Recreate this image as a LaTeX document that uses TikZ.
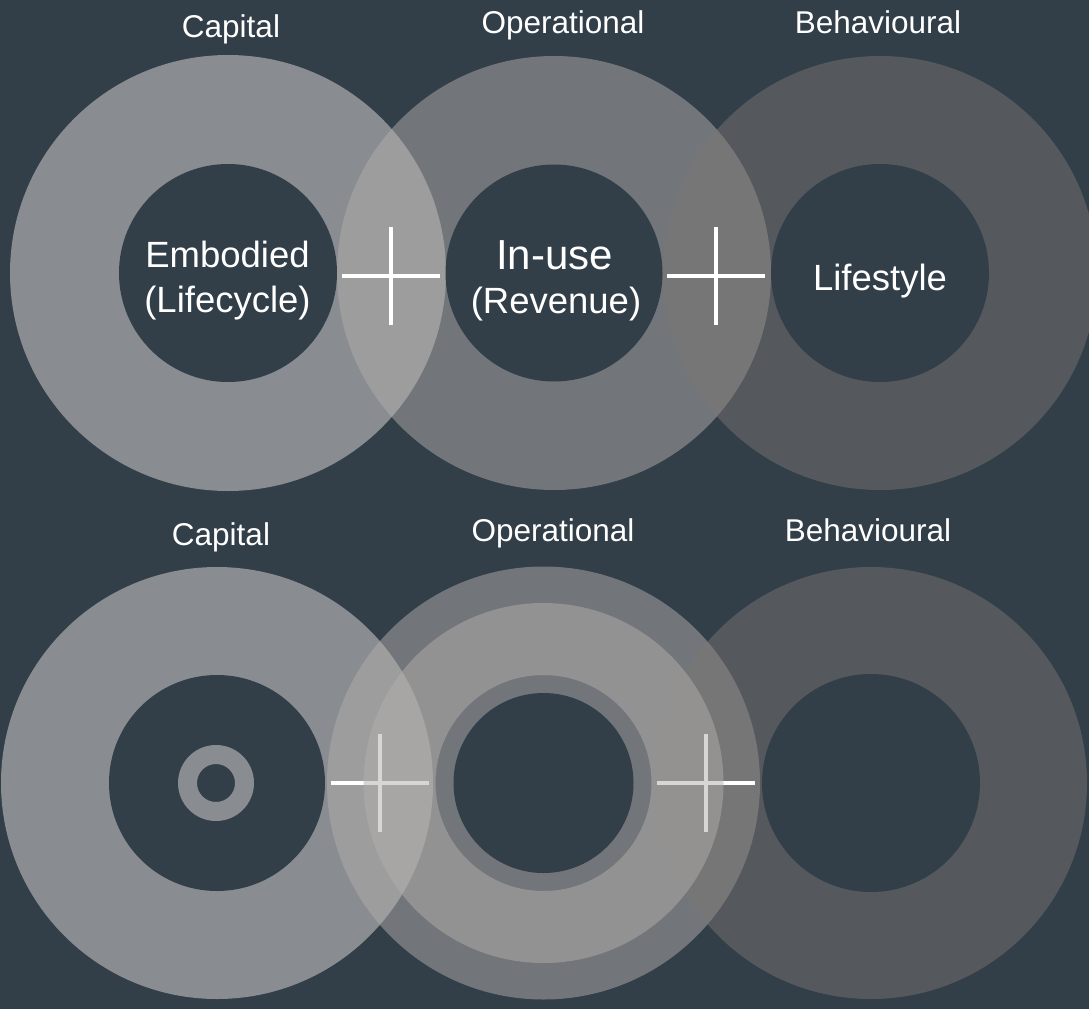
\documentclass[tikz,border=0pt]{standalone}
\usepackage{fontspec}
\setmainfont{Liberation Sans}
\definecolor{bg}{RGB}{50,62,72}
\definecolor{capc}{RGB}{137,140,145}
\definecolor{opc}{RGB}{178,175,172}
\definecolor{behc}{RGB}{124,120,117}
\begin{document}
\begin{tikzpicture}[x=1pt,y=-1pt,
  capital/.style={fill=capc},
  operational/.style={fill=opc,fill opacity=0.5},
  behavioural/.style={fill=behc,fill opacity=0.48},
  core/.style={fill=bg},
  plusline/.style={draw=white,line width=4pt},
  heading/.style={text=white,font=\fontsize{31.5}{36}\selectfont,anchor=base,inner sep=0pt},
  inner/.style={text=white,font=\fontsize{36.5}{42}\selectfont,anchor=base,inner sep=0pt},
]
\fill[bg] (0,0) rectangle (1089,1009);
\useasboundingbox (0,0) rectangle (1089,1009);

% ---------- top row ----------
\fill[capital] (228,273) circle[radius=218pt];
\fill[operational] (554,273) circle[radius=217pt];
\fill[behavioural] (880,273) circle[radius=217pt];
\fill[core] (228,273) circle[radius=109pt];
\fill[core] (554,273) circle[radius=108.5pt];
\fill[core] (880,273) circle[radius=109pt];

\coordinate (p1) at (391,275.5);
\coordinate (p2) at (716,275.5);
\draw[plusline] ([xshift=-49pt]p1) -- ([xshift=49pt]p1);
\draw[plusline] ([yshift=-49pt]p1) -- ([yshift=49pt]p1);
\draw[plusline] ([xshift=-49pt]p2) -- ([xshift=49pt]p2);
\draw[plusline] ([yshift=-49pt]p2) -- ([yshift=49pt]p2);

\node[heading] (capT) at (231,37) {Capital};
\node[heading] (opT) at (563,33) {Operational};
\node[heading] (behT) at (878,33) {Behavioural};
\node[inner] (emb) at (227.5,267) {Embodied};
\node[inner] (lif) at (227.5,312) {(Lifecycle)};
\node[inner,font=\fontsize{42}{48}\selectfont] (inuse) at (554.5,269) {In-use};
\node[inner] (rev) at (556,313) {(Revenue)};
\node[inner] (lst) at (880,290) {Lifestyle};

% ---------- bottom row ----------
\fill[capital] (217,783) circle[radius=216pt];
\fill[operational] (543.5,783) circle[radius=216.5pt];
\fill[behavioural] (871,783) circle[radius=216pt];
\fill[core] (217,783) circle[radius=108pt];
\fill[capital,even odd rule] (216,783) circle[radius=38pt] circle[radius=19pt];
\fill[core] (543.5,783) circle[radius=90pt];
\fill[core] (871,783) circle[radius=109pt];

\coordinate (q1) at (380,783);
\coordinate (q2) at (706,783);
\draw[plusline] ([xshift=-49pt]q1) -- ([xshift=49pt]q1);
\draw[plusline] ([yshift=-49pt]q1) -- ([yshift=49pt]q1);
\draw[plusline] ([xshift=-49pt]q2) -- ([xshift=49pt]q2);
\draw[plusline] ([yshift=-49pt]q2) -- ([yshift=49pt]q2);

\fill[operational,even odd rule] (543.5,783) circle[radius=180pt] circle[radius=108pt];

\node[heading] (capB) at (221,545) {Capital};
\node[heading] (opB) at (553,541) {Operational};
\node[heading] (behB) at (868,541) {Behavioural};
\end{tikzpicture}
\end{document}
